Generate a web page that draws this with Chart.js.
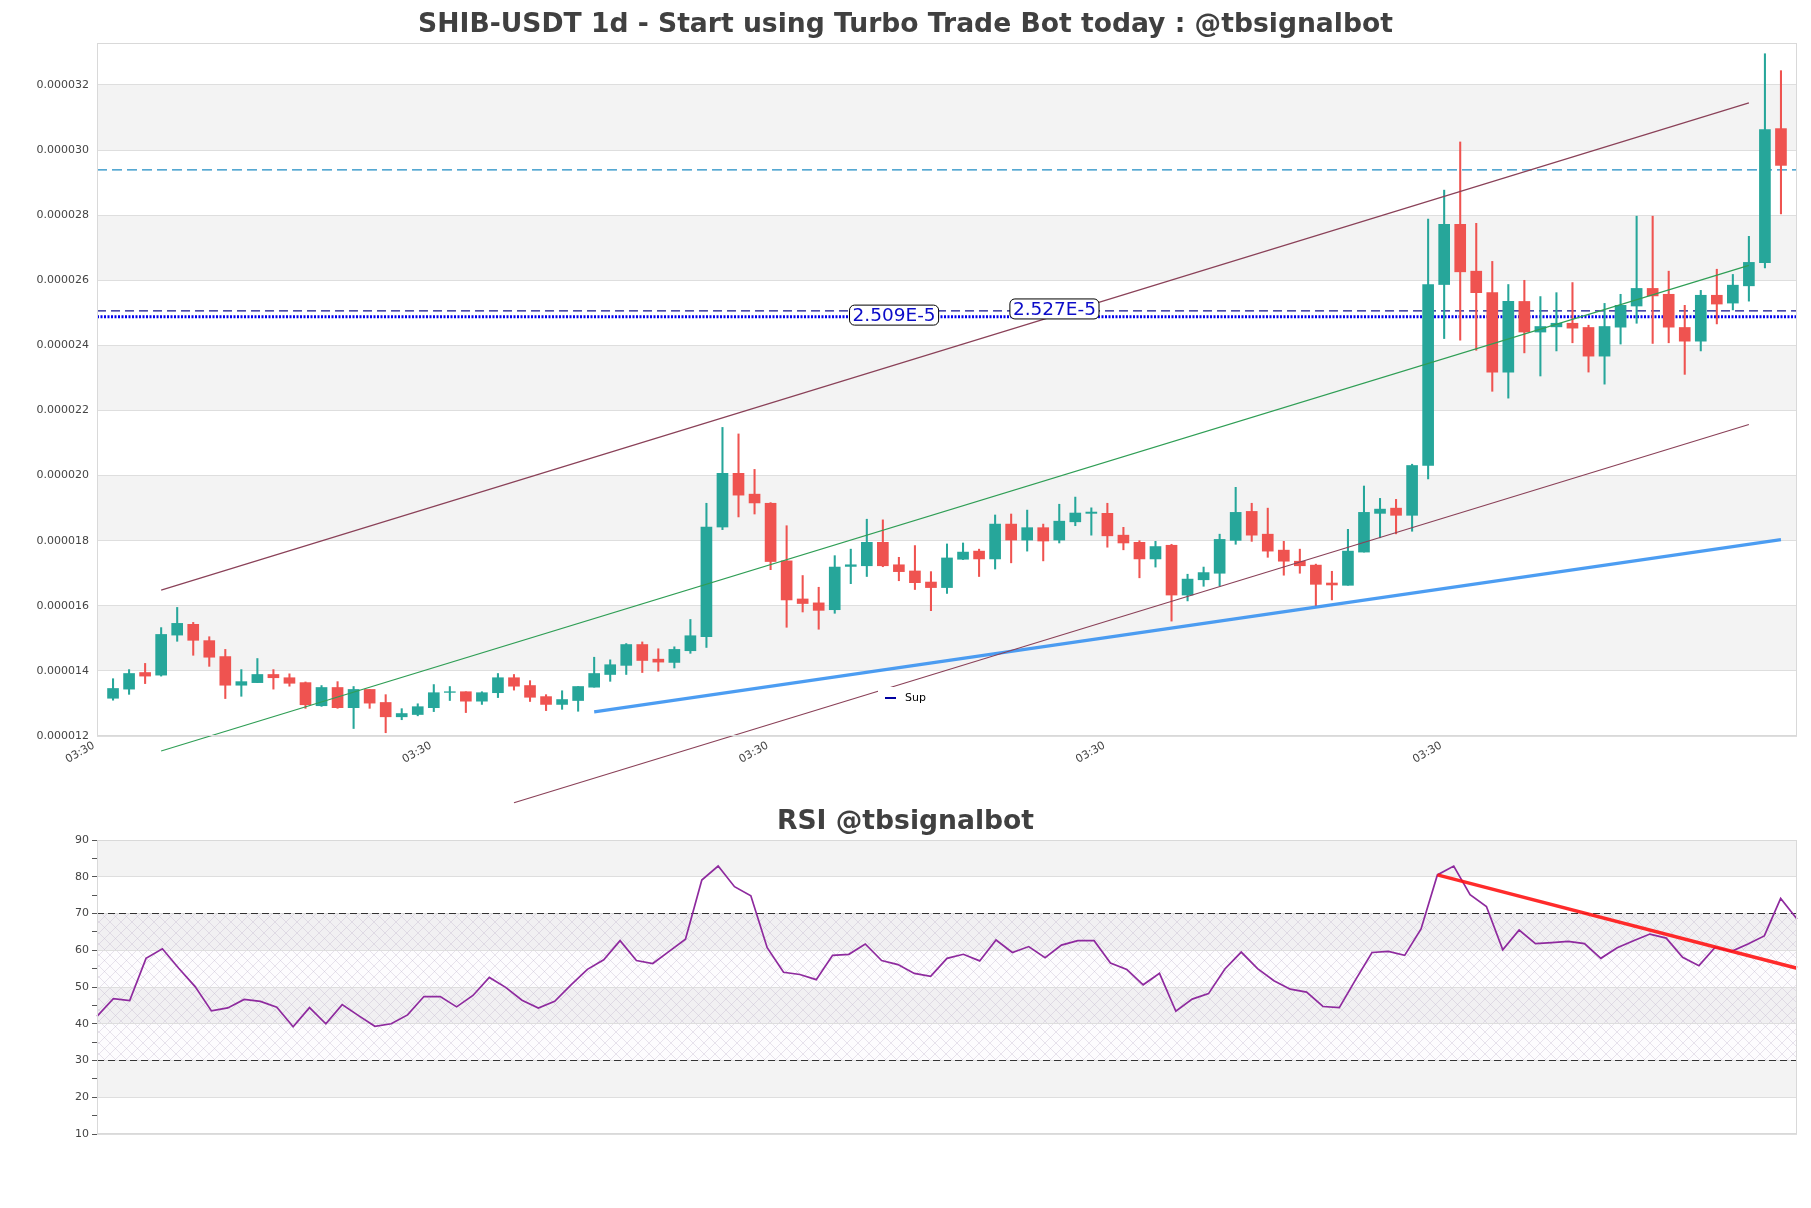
<!DOCTYPE html>
<html>
<head>
<meta charset="utf-8">
<script src="https://cdn.jsdelivr.net/npm/chart.js@4.4.0/dist/chart.umd.min.js"></script>
<style>
  html, body { margin: 0; padding: 0; background: #fff; }
  #wrap { position: relative; width: 1811px; height: 1208px; }
  canvas { position: absolute; left: 0; }
  #price { top: 0; }
  #rsi { top: 790px; }
</style>
</head>
<body>
<div id="wrap">
  <canvas id="price" width="1811" height="815"></canvas>
  <canvas id="rsi" width="1811" height="418"></canvas>
</div>
<script>
// prices in units of 1e-6 USDT, one candle per day (index 0..104)
const openP = [13.16,13.44,13.95,13.87,15.10,15.43,14.93,14.44,13.56,13.64,13.89,13.79,13.64,12.93,13.49,12.87,13.43,13.03,12.59,12.66,
  12.87,13.34,13.36,13.07,13.33,13.79,13.55,13.21,12.97,13.09,13.50,13.89,14.17,14.81,14.36,14.26,14.62,15.05,18.42,20.07,
  19.43,19.15,17.38,16.21,16.09,15.88,17.21,17.23,17.95,17.26,17.07,16.73,16.56,17.43,17.68,17.44,18.51,18.02,18.40,18.02,
  18.58,18.84,18.84,18.17,17.95,17.44,17.86,16.33,16.80,17.00,18.01,18.90,18.20,17.71,17.37,17.25,16.70,16.63,17.65,18.84,
  19.00,18.78,20.31,25.87,27.72,26.28,25.62,23.18,25.35,24.41,24.57,24.68,24.55,23.67,24.56,25.21,25.75,25.57,24.55,24.13,
  25.54,25.30,25.83,26.54,30.66];
const highP = [13.76,14.04,14.23,15.33,15.95,15.49,15.05,14.66,14.04,14.38,14.04,13.91,13.66,13.55,13.67,13.52,13.43,13.27,12.84,12.99,
  13.58,13.52,13.36,13.36,13.92,13.89,13.70,13.27,13.39,13.52,14.42,14.34,14.84,14.89,14.68,14.74,15.58,19.15,21.48,21.28,
  20.19,19.17,18.46,16.93,16.57,17.54,17.74,18.66,18.64,17.49,17.85,17.05,17.90,17.93,17.74,18.79,18.82,18.94,18.51,19.12,
  19.34,19.01,19.15,18.41,18.00,17.98,17.89,16.97,17.19,18.20,19.64,19.15,19.00,17.98,17.74,17.28,17.06,18.35,19.68,19.30,
  19.27,20.35,27.88,28.77,30.25,27.75,26.58,25.87,26.00,25.50,25.62,25.93,24.62,25.29,25.57,27.97,27.97,26.28,25.23,25.69,
  26.34,26.18,27.35,32.96,32.44];
const lowP = [13.10,13.28,13.61,13.84,14.91,14.48,14.14,13.15,13.22,13.64,13.44,13.53,12.85,12.91,12.85,12.23,12.85,12.10,12.50,12.62,
  12.75,13.09,12.72,12.97,13.18,13.41,13.06,12.78,12.82,12.76,13.50,13.68,13.89,13.95,13.99,14.09,14.54,14.72,18.34,18.73,
  18.82,17.11,15.34,15.81,15.28,15.77,16.68,16.90,17.20,16.77,16.50,15.85,16.38,17.42,16.90,17.13,17.32,17.68,17.38,17.93,
  18.46,18.17,17.80,17.72,16.86,17.19,15.53,16.15,16.60,16.61,17.89,17.98,17.49,16.94,17.00,16.00,16.18,16.63,17.65,18.09,
  18.21,18.29,19.90,24.21,24.16,23.85,22.59,22.38,23.77,23.06,23.83,24.08,23.18,22.81,24.04,24.68,24.06,24.08,23.11,23.83,
  24.66,25.09,25.36,26.38,28.04];
const closeP = [13.46,13.92,13.84,15.12,15.46,14.94,14.42,13.56,13.67,13.89,13.79,13.62,12.96,13.49,12.87,13.43,13.01,12.59,12.69,12.90,
  13.33,13.36,13.07,13.33,13.79,13.53,13.19,12.97,13.12,13.52,13.92,14.19,14.81,14.32,14.27,14.66,15.08,18.42,20.07,19.40,
  19.16,17.36,16.18,16.07,15.86,17.19,17.26,17.95,17.23,17.05,16.71,16.56,17.47,17.65,17.44,18.51,18.02,18.40,17.99,18.60,
  18.85,18.88,18.15,17.93,17.44,17.82,16.33,16.82,17.02,18.04,18.87,18.17,17.68,17.37,17.23,16.66,16.64,17.68,18.87,18.97,
  18.78,20.31,25.87,27.72,26.26,25.62,23.18,25.35,24.41,24.58,24.68,24.53,23.67,24.58,25.23,25.75,25.52,24.56,24.13,25.54,
  25.27,25.85,26.55,30.63,29.53];
const rsiVals = [42.0,46.8,46.3,57.8,60.4,55.1,50.1,43.5,44.3,46.6,46.1,44.5,39.2,44.4,40.0,45.2,42.2,39.3,40.0,42.4,
  47.4,47.4,44.6,47.7,52.6,49.9,46.4,44.3,46.1,50.6,54.8,57.4,62.6,57.2,56.4,59.7,63.0,79.1,82.9,77.3,
  74.8,60.7,54.0,53.4,52.0,58.6,58.9,61.7,57.2,56.1,53.7,52.9,57.8,58.9,57.1,62.8,59.4,61.0,58.0,61.4,
  62.6,62.6,56.5,54.8,50.6,53.7,43.4,46.7,48.2,54.9,59.5,55.0,51.7,49.4,48.6,44.7,44.4,52.0,59.4,59.7,
  58.6,65.8,80.5,82.9,75.1,71.9,60.1,65.5,61.8,62.1,62.4,61.8,57.8,60.7,62.6,64.4,63.3,58.1,55.8,60.8,
  59.7,61.7,63.9,74.1,68.5];

// x ticks (candle index) and their labels
const xTickPos = [-1, 20, 41, 62, 83];
const xTickLabels = ['03:30', '03:30', '03:30', '03:30', '03:30'];

// trend lines as [index, price] pairs
const upperChannel = [[3, 16.48], [102, 31.45]];
const midChannel = [[3, 11.54], [102, 26.46]];
const lowerChannel = [[25, 9.95], [102, 21.57]];
const supLine = [[30, 12.74], [104, 18.03]];
// horizontal levels
const resLevel = 29.39;
const levelA = 25.06;
const levelB = 24.88;
// price notes
const noteText = ['2.509E-5', '2.527E-5'];
const noteX = [48.7, 58.7];
const noteY = [24.93, 25.12];
// rsi trend line and bounds
const rsiTrend = [[82, 80.5], [104, 55.1]];
const rsiUpper = 70, rsiLower = 30;

const UP = '#26a69a', DOWN = '#ef5350';
Chart.defaults.font.family = 'DejaVu Sans';
const idx = openP.map((_, i) => i);
const candleColors = idx.map(i => closeP[i] >= openP[i] ? UP : DOWN);
const pts = arr => arr.map(p => ({x: p[0], y: p[1]}));
const flat = (v, a, b) => [{x: a, y: v}, {x: b, y: v}];

// grey bands + optional hatch between gridlines
const bandsPlugin = {
  id: 'bands',
  beforeDraw(chart, args, o) {
    const {ctx, chartArea: a, scales: {y}} = chart;
    ctx.save();
    ctx.fillStyle = '#f3f3f3';
    for (let v = o.start; v < y.max; v += o.every) {
      const top = y.getPixelForValue(Math.min(v + o.width, y.max));
      const bot = y.getPixelForValue(v);
      ctx.fillRect(a.left, top, a.right - a.left, bot - top);
    }
    if (o.hatch) {
      const c = document.createElement('canvas');
      c.width = 11; c.height = 11;
      const g = c.getContext('2d');
      g.strokeStyle = 'rgba(190,180,205,0.45)';
      g.lineWidth = 0.8;
      g.beginPath();
      g.moveTo(0, 0); g.lineTo(11, 11);
      g.moveTo(0, 11); g.lineTo(11, 0);
      g.stroke();
      const top = y.getPixelForValue(o.hatch[1]);
      const bot = y.getPixelForValue(o.hatch[0]);
      ctx.fillStyle = 'rgba(150,60,180,0.015)';
      ctx.fillRect(a.left, top, a.right - a.left, bot - top);
      ctx.fillStyle = ctx.createPattern(c, 'repeat');
      ctx.fillRect(a.left, top, a.right - a.left, bot - top);
    }
    ctx.restore();
  },
  afterDatasetsDraw(chart) {
    const {ctx, chartArea: a} = chart;
    ctx.save();
    ctx.strokeStyle = '#d9d9d9';
    ctx.lineWidth = 1;
    ctx.strokeRect(a.left + 0.5, a.top + 0.5, a.right - a.left - 1, a.bottom - a.top - 1);
    ctx.restore();
  }
};

const titlePlugin = {
  id: 'figTitle',
  afterDraw(chart, args, o) {
    const ctx = chart.ctx;
    ctx.save();
    ctx.font = 'bold 26.6px "DejaVu Sans"';
    ctx.fillStyle = '#404040';
    ctx.textAlign = 'center';
    ctx.textBaseline = 'middle';
    ctx.fillText(o.text, chart.width / 2, o.y);
    ctx.restore();
  }
};

const notesPlugin = {
  id: 'notes',
  afterDatasetsDraw(chart) {
    const {ctx, scales: {x, y}} = chart;
    ctx.save();
    ctx.font = '18.5px "DejaVu Sans"';
    ctx.textAlign = 'center';
    ctx.textBaseline = 'middle';
    noteText.forEach((t, i) => {
      const cx = x.getPixelForValue(noteX[i]);
      const cy = y.getPixelForValue(noteY[i]);
      const w = ctx.measureText(t).width + 6;
      const h = 20;
      ctx.beginPath();
      ctx.roundRect(cx - w / 2, cy - h / 2, w, h, 5);
      ctx.fillStyle = '#fff';
      ctx.fill();
      ctx.strokeStyle = '#000';
      ctx.lineWidth = 1;
      ctx.stroke();
      ctx.fillStyle = '#0c0cc8';
      ctx.fillText(t, cx, cy + 1);
    });
    // legend
    ctx.fillStyle = '#fff';
    ctx.fillRect(878, 687, 54, 22);
    ctx.strokeStyle = '#0000a0';
    ctx.lineWidth = 2;
    ctx.beginPath();
    ctx.moveTo(885, 698); ctx.lineTo(896, 698);
    ctx.stroke();
    ctx.font = '11px "DejaVu Sans"';
    ctx.fillStyle = '#000';
    ctx.textAlign = 'left';
    ctx.fillText('Sup', 905, 698);
    ctx.restore();
  }
};

const lineDs = (data, color, width, dash, order) => ({
  type: 'line', data, borderColor: color, borderWidth: width, borderDash: dash || [],
  pointRadius: 0, fill: false, clip: false, order
});

new Chart(document.getElementById('price'), {
  type: 'bar',
  data: {
    datasets: [
      lineDs(flat(resLevel, -1, 105), '#1f8cc4', 1.2, [10, 5], 6),
      lineDs(flat(levelA, -1, 105), '#10108c', 1.2, [9, 5], 6),
      lineDs(flat(levelB, -1, 105), '#0000ee', 3, [2, 1.5], 6),
      {
        data: idx.map(i => ({x: i, y: [lowP[i], highP[i]]})),
        backgroundColor: candleColors, barThickness: 1.4, grouped: false, order: 5
      },
      {
        data: idx.map(i => ({x: i, y: [openP[i], closeP[i]]})),
        backgroundColor: candleColors, barThickness: 11, grouped: false, order: 4
      },
      lineDs(pts(upperChannel), '#8a4158', 1.2, null, 1),
      lineDs(pts(midChannel), '#2f9e55', 1.2, null, 1),
      lineDs(pts(lowerChannel), '#8a4158', 1.2, null, 1),
      lineDs(pts(supLine), 'rgba(45,140,240,0.85)', 3.3, null, 1)
    ]
  },
  options: {
    responsive: false, animation: false, devicePixelRatio: 1,
    layout: {padding: {top: 43, right: 14, left: 0, bottom: 0}},
    plugins: {
      legend: {display: false}, tooltip: {enabled: false},
      bands: {start: 14, every: 4, width: 2},
      figTitle: {text: 'SHIB-USDT 1d - Start using Turbo Trade Bot today : @tbsignalbot', y: 25.5}
    },
    scales: {
      x: {
        type: 'linear', min: -1, max: 105, offset: false,
        grid: {display: false}, border: {display: false},
        afterBuildTicks: s => { s.ticks = xTickPos.map(v => ({value: v})); },
        afterFit: s => { s.height = 79; },
        ticks: {
          autoSkip: false, minRotation: 30, maxRotation: 30, padding: -5, labelOffset: -3,
          color: '#444', font: {size: 11},
          callback: (v, i) => xTickLabels[i]
        }
      },
      y: {
        min: 12, max: 33.29,
        afterBuildTicks: s => { s.ticks = [12,14,16,18,20,22,24,26,28,30,32].map(v => ({value: v})); },
        afterFit: s => { s.width = 97; },
        grid: {color: '#dedede', drawTicks: false}, border: {display: false},
        ticks: {padding: 8, color: '#444', font: {size: 11}, callback: v => (v * 1e-6).toFixed(6)}
      }
    }
  },
  plugins: [bandsPlugin, titlePlugin, notesPlugin]
});

new Chart(document.getElementById('rsi'), {
  type: 'line',
  data: {
    datasets: [
      lineDs(flat(rsiUpper, 0, 104), '#333', 1.2, [7, 4], 3),
      lineDs(flat(rsiLower, 0, 104), '#333', 1.2, [7, 4], 3),
      lineDs(idx.map(i => ({x: i, y: rsiVals[i]})), '#8e2a9e', 1.7, null, 2),
      lineDs(pts(rsiTrend), 'rgba(255,20,20,0.9)', 3.5, null, 1)
    ]
  },
  options: {
    responsive: false, animation: false, devicePixelRatio: 1,
    layout: {padding: {top: 50, right: 14, left: 0, bottom: 74}},
    plugins: {
      legend: {display: false}, tooltip: {enabled: false},
      bands: {start: 20, every: 20, width: 10, hatch: [30, 70]},
      figTitle: {text: 'RSI @tbsignalbot', y: 32.5}
    },
    scales: {
      x: {type: 'linear', min: 0, max: 104, display: false},
      y: {
        min: 10, max: 90,
        afterBuildTicks: s => {
          const t = [];
          for (let v = 10; v <= 90; v += 5) t.push({value: v});
          s.ticks = t;
        },
        afterFit: s => { s.width = 97; },
        grid: {
          color: c => (c.tick && c.tick.value % 10 === 0) ? '#dedede' : 'rgba(0,0,0,0)',
          tickColor: '#555', tickLength: 5
        },
        border: {display: false},
        ticks: {padding: 3, color: '#444', font: {size: 11}, autoSkip: false,
          callback: v => v % 10 === 0 ? String(v) : ''}
      }
    }
  },
  plugins: [bandsPlugin, titlePlugin]
});
</script>
</body>
</html>
